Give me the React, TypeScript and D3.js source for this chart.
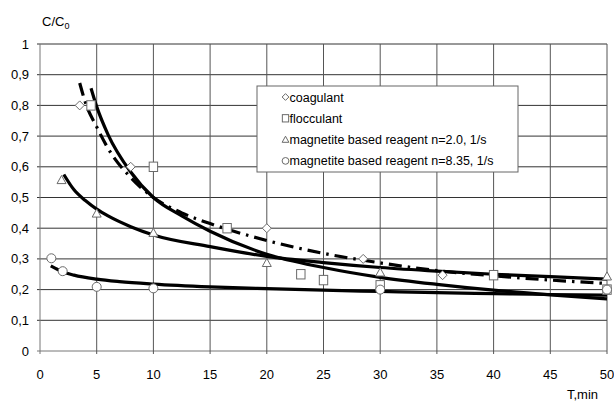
import * as d3 from "d3";

// markers
const coagX = [3.5, 8, 20, 28.5, 35.5];
const coagY = [0.8, 0.6, 0.4, 0.3, 0.247];
const flocX = [4.5, 10, 16.5, 23, 25, 30, 40, 50];
const flocY = [0.8, 0.6, 0.4, 0.25, 0.231, 0.214, 0.247, 0.2];
const mag2X = [1.9, 5, 10, 20, 30, 50];
const mag2Y = [0.557, 0.448, 0.385, 0.287, 0.256, 0.243];
const mag8X = [1, 2, 5, 10, 30, 50];
const mag8Y = [0.302, 0.26, 0.209, 0.204, 0.2, 0.2];

// trend curves
const coagFitX = [3.5, 4, 5, 6, 8, 10, 12.5, 15, 20, 25, 30, 35, 40, 45, 50];
const coagFitY = [0.873, 0.81, 0.73, 0.66, 0.565, 0.5, 0.45, 0.415, 0.36, 0.318, 0.287, 0.262, 0.245, 0.231, 0.22];
const flocFitX = [4.5, 5, 6, 8, 10, 12.5, 15, 20, 25, 30, 35, 40, 45, 50];
const flocFitY = [0.856, 0.796, 0.705, 0.583, 0.5, 0.44, 0.39, 0.315, 0.272, 0.24, 0.217, 0.198, 0.183, 0.17];
const mag2FitX = [2.1, 3, 4, 5, 6, 8, 10, 15, 20, 25, 30, 35, 40, 45, 50];
const mag2FitY = [0.575, 0.525, 0.49, 0.462, 0.44, 0.405, 0.378, 0.34, 0.308, 0.288, 0.272, 0.26, 0.25, 0.242, 0.234];
const mag8FitX = [0.95, 2, 3, 5, 7, 10, 15, 20, 25, 30, 35, 40, 45, 50];
const mag8FitY = [0.277, 0.258, 0.247, 0.234, 0.226, 0.218, 0.209, 0.203, 0.198, 0.194, 0.19, 0.187, 0.184, 0.182];

const xTicks = [0, 5, 10, 15, 20, 25, 30, 35, 40, 45, 50];
const yTicks = [0, 0.1, 0.2, 0.3, 0.4, 0.5, 0.6, 0.7, 0.8, 0.9, 1];
const legendLabels = [
    "coagulant",
    "flocculant",
    "magnetite based reagent n=2.0, 1/s",
    "magnetite based reagent n=8.35, 1/s",
];
const shapes = ["diamond", "square", "triangle", "circle"];

const W = 614;
const H = 403;
const font = "'Liberation Sans', Arial, sans-serif";

const x = d3.scaleLinear().domain([0, 50]).range([40, 607]);
const y = d3.scaleLinear().domain([0, 1]).range([351, 44]);

const zip = (xs: number[], ys: number[]) => xs.map((v, i) => [v, ys[i]] as [number, number]);

const line = d3
    .line<[number, number]>()
    .x((d) => x(d[0]))
    .y((d) => y(d[1]))
    .curve(d3.curveMonotoneX);

function Marker({shape, cx, cy, s = 1}: {shape: string; cx: number; cy: number; s?: number}) {
    const common = {fill: "#fff", stroke: "#6a6a6a", strokeWidth: 1};
    if(shape === "diamond") {
        const r = 4.5 * s;
        return <path d={`M${cx},${cy - r}L${cx + r},${cy}L${cx},${cy + r}L${cx - r},${cy}Z`} {...common} />;
    }
    if(shape === "square") {
        const r = 4.2 * s;
        return <rect x={cx - r} y={cy - r - 0.5} width={2 * r} height={2 * r + 1} {...common} />;
    }
    if(shape === "triangle") {
        const r = 4.5 * s;
        return <path d={`M${cx},${cy - r}L${cx + r},${cy + r * 0.8}L${cx - r},${cy + r * 0.8}Z`} {...common} />;
    }
    return <circle cx={cx} cy={cy} r={4.5 * s} {...common} />;
}

export default function App() {
    const fits = [
        {data: zip(coagFitX, coagFitY), dash: "13,6,2.5,6"},
        {data: zip(flocFitX, flocFitY), dash: null},
        {data: zip(mag2FitX, mag2FitY), dash: null},
        {data: zip(mag8FitX, mag8FitY), dash: null},
    ];
    const pts = [
        zip(coagX, coagY),
        zip(flocX, flocY),
        zip(mag2X, mag2Y),
        zip(mag8X, mag8Y),
    ];

    return (
        <svg width={W} height={H} style={{position: "absolute", left: 0, top: 0, background: "#fff"}} fontFamily={font}>
            {/* grid */}
            {yTicks.map((t) => (
                <line key={"h" + t} x1={37} x2={607} y1={y(t)} y2={y(t)} stroke={t === 0 ? "#777" : "#333"} strokeWidth={1} />
            ))}
            {xTicks.map((t) => (
                <line key={"v" + t} x1={x(t)} x2={x(t)} y1={44} y2={354} stroke={t === 0 ? "#777" : "#555"} strokeWidth={1} />
            ))}
            {/* tick labels */}
            {yTicks.map((t) => (
                <text key={"yl" + t} x={29} y={y(t) + 4.5} textAnchor="end" fontSize={13} fill="#000">
                    {d3.format(".1~f")(t).replace(".", ",")}
                </text>
            ))}
            {xTicks.map((t) => (
                <text key={"xl" + t} x={x(t)} y={379} textAnchor="middle" fontSize={13} fill="#000">
                    {t}
                </text>
            ))}
            <text x={598} y={399} textAnchor="end" fontSize={13}>T,min</text>
            <text x={42} y={26} fontSize={13}>
                C/C<tspan fontSize={9} dy={3}>0</tspan>
            </text>
            {/* trend curves */}
            {fits.map((f, i) => (
                <path
                    key={"f" + i}
                    d={line(f.data) || ""}
                    fill="none"
                    stroke="#000"
                    strokeWidth={3.2}
                    strokeDasharray={f.dash || undefined}
                />
            ))}
            {/* markers */}
            {pts.map((p, i) =>
                p.map((d, j) => <Marker key={i + "-" + j} shape={shapes[i]} cx={x(d[0])} cy={y(d[1])} />)
            )}
            {/* legend */}
            <rect x={257} y={86} width={261} height={86} fill="#fff" stroke="#666" strokeWidth={1} />
            {legendLabels.map((l, i) => (
                <g key={l}>
                    <Marker shape={shapes[i]} cx={285.5} cy={97 + i * 21.3} s={0.75} />
                    <text x={289.5} y={101.5 + i * 21.3} fontSize={12.5} fill="#000">{l}</text>
                </g>
            ))}
        </svg>
    );
}
